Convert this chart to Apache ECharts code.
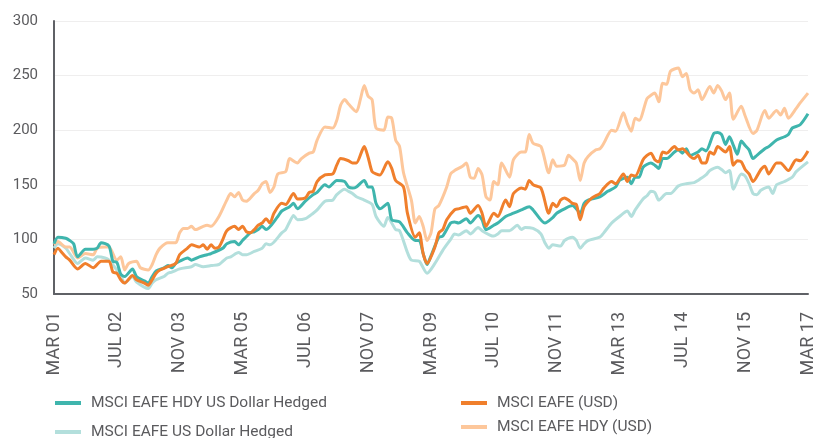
<!DOCTYPE html>
<html>
<head>
<meta charset="utf-8">
<script src="https://cdn.jsdelivr.net/npm/echarts@6/dist/echarts.min.js"></script>
<style>
html,body{margin:0;padding:0;background:#fff;}
#chart{width:817px;height:438px;}
</style>
</head>
<body>
<div id="chart"></div>
<script>
// Monthly categories Mar 2001 .. Mar 2017 (193 months)
const monthNames = ['JAN','FEB','MAR','APR','MAY','JUN','JUL','AUG','SEP','OCT','NOV','DEC'];
const startYear = 2001, startMonth = 2, monthCount = 193;
const categories = [];
for (let i = 0; i < monthCount; i++) {
  const mi = (startMonth + i) % 12;
  const yr = startYear + Math.floor((startMonth + i) / 12);
  categories.push(monthNames[mi] + ' ' + String(yr % 100).padStart(2, '0'));
}
const yTicks = [50, 100, 150, 200, 250, 300];

const seriesNames = ['MSCI EAFE HDY US Dollar Hedged','MSCI EAFE US Dollar Hedged','MSCI EAFE (USD)','MSCI EAFE HDY (USD)'];

// [month index, value]
const hdyHedged = [[0,96],[1,102],[3,101],[4,99],[5,96],[6,84],[8,91],[10,91],[11,92],[12,97],[14,94],[15,80],[16,79],[17,68],[18,66],[20,73],[21,66],[23,62],[24,60],[25,66],[26,71],[28,74],[29,76],[30,74],[31,78],[32,80],[34,83],[35,81],[37,84],[39,86],[40,87],[43,92],[44,96],[46,98],[47,95],[48,99],[50,106],[51,107],[52,109],[53,112],[54,109],[57,121],[58,126],[60,130],[61,133],[62,128],[64,135],[66,141],[67,143],[69,150],[70,148],[72,154],[74,153],[75,148],[76,147],[77,148],[79,154],[80,148],[81,148],[82,133],[83,128],[85,133],[86,118],[88,116],[90,106],[92,99],[93,99],[94,87],[95,77],[96,85],[98,102],[99,103],[101,115],[102,116],[103,115],[105,119],[106,115],[108,122],[109,118],[110,109],[112,113],[113,115],[115,121],[117,124],[119,127],[121,130],[122,127],[125,115],[127,120],[128,124],[130,128],[132,131],[133,128],[134,124],[135,133],[136,136],[139,139],[141,144],[143,148],[144,154],[146,157],[147,151],[148,157],[149,157],[150,166],[152,170],[153,168],[154,165],[155,174],[156,174],[158,180],[159,182],[160,179],[161,183],[162,177],[164,180],[165,183],[166,181],[168,197],[169,198],[170,196],[171,187],[172,194],[173,186],[174,178],[175,190],[176,186],[177,182],[178,174],[179,177],[181,183],[182,185],[184,191],[186,194],[187,196],[188,202],[190,205],[192,215]];

const usdHedged = [[0,92],[1,96],[3,92],[4,87],[6,78],[8,83],[10,81],[11,84],[13,83],[14,81],[16,72],[17,67],[18,60],[20,66],[21,61],[24,55],[25,60],[26,63],[28,66],[29,69],[30,70],[32,73],[35,75],[36,77],[38,75],[40,76],[42,77],[43,80],[44,83],[45,84],[47,88],[48,86],[49,86],[51,89],[53,92],[54,96],[55,95],[58,106],[59,109],[60,116],[61,122],[62,118],[64,119],[66,124],[67,127],[69,135],[71,136],[72,141],[74,146],[75,144],[76,142],[77,139],[79,136],[81,132],[82,121],[84,112],[85,120],[87,109],[88,108],[90,88],[91,81],[93,80],[95,69],[97,78],[99,90],[101,100],[102,105],[103,104],[105,108],[106,105],[108,111],[109,108],[111,104],[112,103],[113,105],[114,108],[116,108],[118,113],[119,109],[120,111],[122,110],[124,105],[125,97],[126,92],[127,95],[129,94],[130,99],[132,102],[133,99],[134,92],[135,96],[136,99],[139,102],[140,106],[142,115],[144,121],[146,126],[147,121],[148,127],[150,137],[151,140],[152,144],[153,143],[154,136],[156,142],[157,142],[159,149],[161,151],[163,152],[164,154],[166,159],[167,163],[169,166],[170,164],[171,161],[172,163],[173,146],[175,160],[176,158],[177,151],[178,142],[179,141],[180,145],[182,148],[183,142],[184,150],[186,153],[188,157],[189,162],[192,171]];

const eafeUsd = [[0,86],[1,92],[2,88],[3,84],[4,81],[6,73],[8,78],[10,74],[12,80],[14,80],[15,70],[16,69],[17,63],[18,60],[20,67],[21,63],[23,60],[24,58],[25,63],[26,69],[27,72],[29,75],[31,78],[32,86],[34,92],[35,95],[37,93],[38,95],[39,91],[40,95],[41,92],[42,93],[43,100],[44,108],[46,112],[47,109],[48,112],[49,107],[50,106],[51,109],[52,113],[53,115],[54,119],[55,115],[56,124],[58,133],[59,132],[61,142],[62,137],[64,138],[65,143],[66,144],[67,153],[69,159],[71,160],[72,168],[73,174],[75,172],[76,170],[77,170],[79,185],[80,175],[81,162],[82,160],[83,159],[85,171],[86,165],[87,154],[89,148],[90,124],[92,102],[93,106],[94,87],[95,78],[97,93],[98,106],[99,109],[100,118],[102,127],[103,128],[105,130],[106,124],[108,131],[109,124],[110,112],[112,124],[113,121],[115,136],[116,130],[117,142],[119,147],[120,146],[121,154],[122,150],[124,147],[126,124],[127,133],[128,130],[129,136],[130,138],[131,136],[132,133],[133,132],[134,118],[135,130],[137,138],[139,142],[140,147],[142,153],[143,151],[145,160],[146,153],[147,159],[148,158],[150,173],[151,177],[152,179],[153,173],[154,171],[155,180],[156,179],[158,185],[159,182],[160,183],[162,176],[163,174],[164,177],[165,170],[166,170],[167,180],[168,178],[169,185],[171,180],[172,185],[173,168],[174,172],[175,171],[176,164],[177,160],[178,153],[180,164],[181,167],[182,160],[184,170],[185,170],[187,163],[189,173],[190,172],[192,181]];

const hdyUsd = [[0,95],[1,98],[3,93],[4,93],[6,83],[8,87],[10,86],[11,92],[13,93],[14,93],[16,81],[17,84],[18,72],[19,78],[21,80],[22,74],[24,72],[25,77],[26,86],[27,92],[29,97],[31,97],[32,106],[33,110],[34,110],[35,112],[36,109],[38,112],[39,113],[40,112],[42,121],[44,136],[45,142],[46,139],[47,143],[48,136],[49,135],[51,142],[52,145],[53,151],[54,153],[55,143],[56,148],[57,160],[59,162],[60,174],[62,170],[63,174],[65,179],[66,180],[67,191],[69,203],[71,202],[72,209],[73,223],[74,228],[75,224],[77,217],[78,228],[79,241],[80,231],[81,228],[82,202],[84,200],[85,212],[86,211],[87,191],[88,185],[89,161],[91,136],[92,115],[93,121],[94,112],[95,99],[96,106],[97,128],[98,131],[100,148],[101,160],[102,163],[104,167],[105,170],[106,157],[107,156],[108,165],[109,159],[110,139],[111,136],[112,153],[113,150],[114,170],[116,157],[117,173],[119,180],[120,180],[121,196],[122,188],[124,185],[126,161],[127,173],[128,167],[130,168],[131,177],[132,174],[133,170],[134,154],[135,170],[136,176],[138,182],[139,183],[140,188],[142,200],[143,199],[145,216],[146,206],[147,199],[148,211],[149,209],[151,229],[152,232],[153,234],[154,226],[155,243],[156,242],[157,254],[159,257],[160,249],[161,252],[162,237],[163,234],[164,237],[165,228],[167,240],[168,234],[169,241],[170,236],[171,228],[172,234],[173,210],[175,222],[176,213],[178,197],[179,200],[181,218],[182,211],[184,218],[185,214],[186,220],[187,211],[189,220],[190,225],[192,234]];

const colors = {teal:'#3fb5ad', lteal:'#b3dfdc', orange:'#f07f2c', peach:'#fdc79b'};
const FONT = 'Roboto';

function mkLegend(name, left, top) {
  return {
    data: [name], left: left, top: top, orient: 'horizontal', padding: 0,
    icon: 'rect', itemWidth: 26, itemHeight: 4, selectedMode: false,
    textStyle: {fontFamily: FONT, fontSize: 15.5, color: '#5b5b5e', lineHeight: 18, padding: [0,0,0,5]}
  };
}
function mkSeries(name, data, color, z) {
  return {
    name: name, type: 'line', data: data, symbol: 'none', smooth: 0.25,
    lineStyle: {width: 3, color: color}, itemStyle: {color: color}, z: z, animation: false
  };
}

const chart = echarts.init(document.getElementById('chart'), null, {renderer: 'canvas'});
chart.setOption({
  animation: false,
  backgroundColor: '#ffffff',
  grid: {left: 54, right: 4, top: 21, bottom: 144, containLabel: false},
  legend: [
    mkLegend(seriesNames[0], 55, 394),
    mkLegend(seriesNames[1], 55, 423),
    mkLegend(seriesNames[2], 461, 394),
    mkLegend(seriesNames[3], 461, 418)
  ],
  xAxis: {
    type: 'category', data: categories, boundaryGap: false,
    axisLine: {show: true, lineStyle: {color: '#5f6166', width: 2}},
    axisTick: {show: false},
    splitLine: {show: false},
    axisLabel: {interval: 15, rotate: 90, margin: 18, fontFamily: FONT, fontSize: 18, color: '#5b5b5e'}
  },
  yAxis: {
    type: 'value', min: yTicks[0], max: yTicks[yTicks.length-1], interval: 50,
    axisLine: {show: true, lineStyle: {color: '#5f6166', width: 2}},
    axisTick: {show: false},
    splitLine: {show: true, lineStyle: {color: '#efeeee', width: 1}},
    axisLabel: {margin: 16, fontFamily: FONT, fontSize: 15, color: '#5b5b5e'}
  },
  series: [
    mkSeries(seriesNames[1], usdHedged, colors.lteal, 2),
    mkSeries(seriesNames[3], hdyUsd, colors.peach, 3),
    mkSeries(seriesNames[0], hdyHedged, colors.teal, 4),
    mkSeries(seriesNames[2], eafeUsd, colors.orange, 5)
  ]
});
</script>
</body>
</html>
